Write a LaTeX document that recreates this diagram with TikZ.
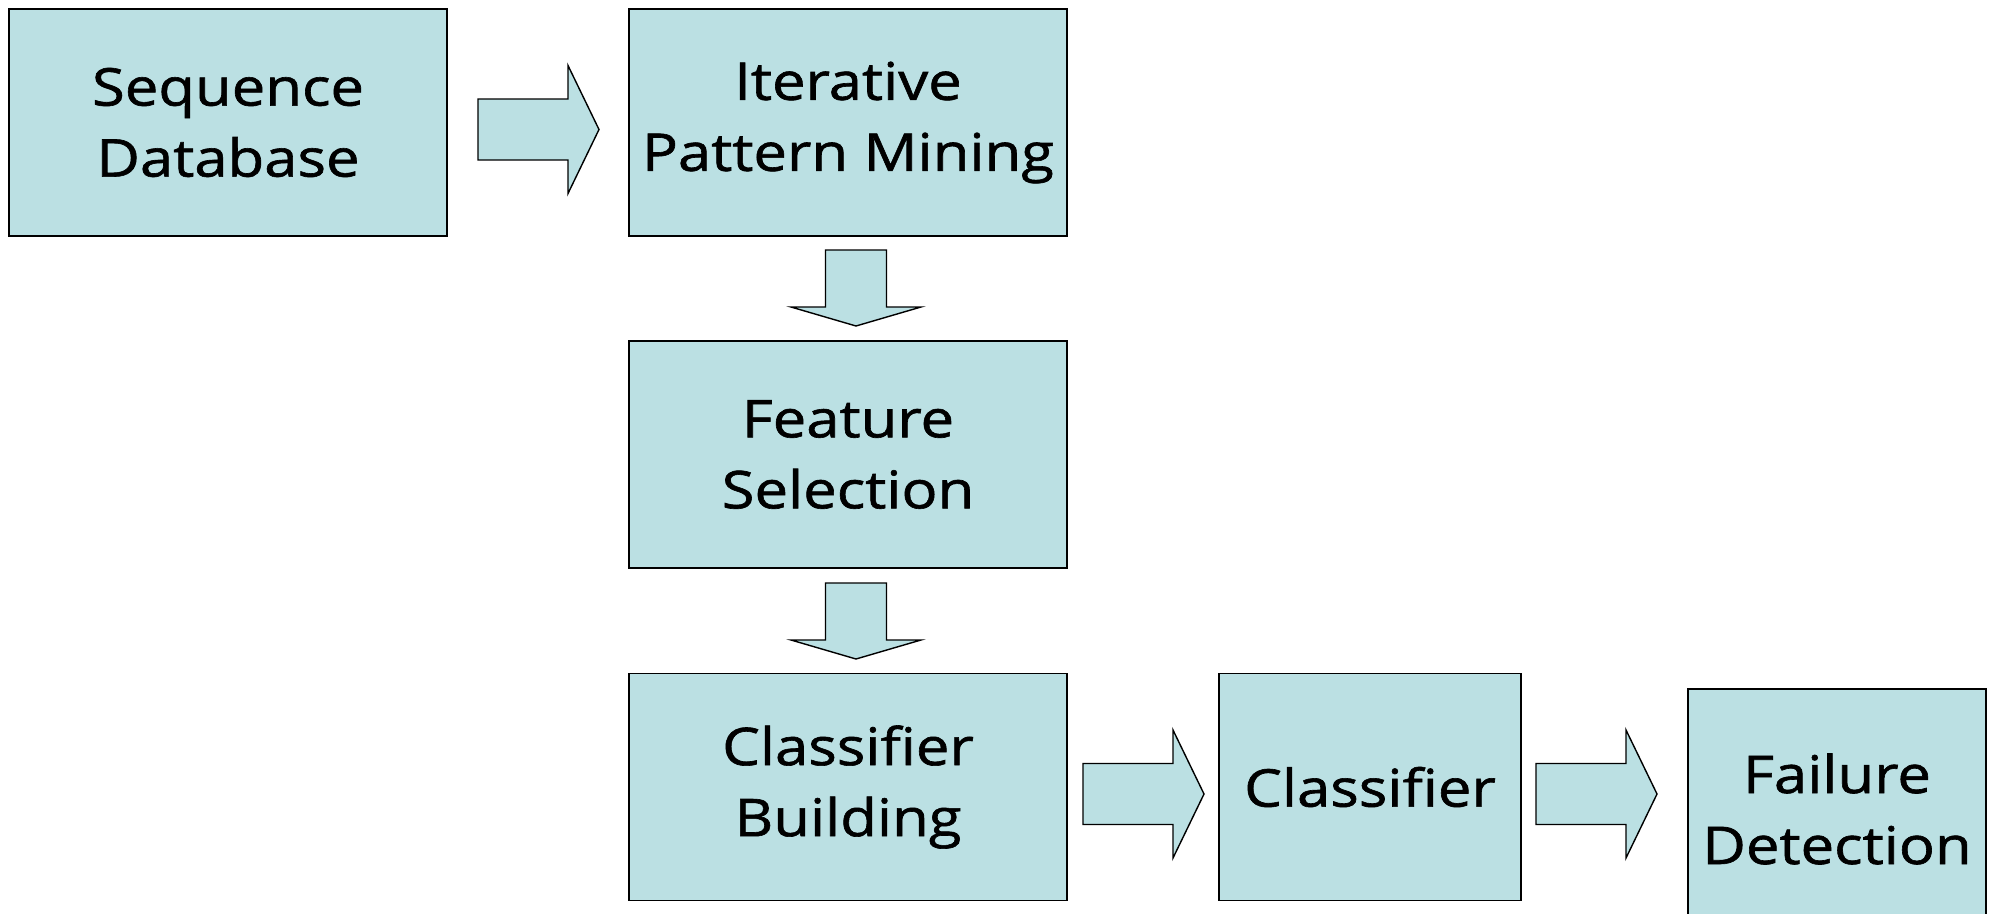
\documentclass[tikz,border=0pt]{standalone}
\usepackage{fontspec}
\setmainfont{Open Sans}[FakeStretch=1.15, FakeBold=1.2]
\definecolor{boxfill}{HTML}{BBE0E3}
\tikzset{
  stage/.style={draw=black, line width=1.6pt, fill=boxfill, rectangle,
    inner sep=0pt, align=center, font=\fontsize{52}{71}\selectfont},
  blockarrow/.style={draw=black, line width=1.4pt, fill=boxfill, line join=miter},
  pics/rightblock/.style={code={
    \path[blockarrow] (0,-30.5) -- (90,-30.5) -- (90,-64) -- (121,0) -- (90,64)
      -- (90,30.5) -- (0,30.5) -- cycle;}},
  pics/downblock/.style={code={
    \path[blockarrow] (-30.5,0) -- (30.5,0) -- (30.5,57) -- (65,57) -- (0,76)
      -- (-65,57) -- (-30.5,57) -- cycle;}}
}
\begin{document}
\begin{tikzpicture}[x=1pt, y=-1pt]
\useasboundingbox (0,0) rectangle (1997,913);
\clip (0,0) rectangle (1997,913);
% process stages
\node[stage, minimum width=438pt, minimum height=227pt] (seq) at (228,122.5) {Sequence\\Database};
\node[stage, minimum width=438pt, minimum height=227pt] (ipm) at (848,122.5) {Iterative\\Pattern Mining};
\node[stage, minimum width=438pt, minimum height=227pt] (fs) at (848,454.5) {Feature\\Selection};
\node[stage, minimum width=438pt, minimum height=227pt] (cb) at (848,787) {Classifier\\Building};
\node[stage, minimum width=302pt, minimum height=227pt] (cl) at (1370,787) {Classifier};
\node[stage, minimum width=298pt, minimum height=240pt] (fd) at (1837,809) {Failure\\Detection};
% block arrows between the stages
\coordinate (a1) at (478,129.5);
\coordinate (a2) at (1083,794);
\coordinate (a3) at (1536,794);
\coordinate (d1) at (856,250);
\coordinate (d2) at (856,583);
\pic at (a1) {rightblock};
\pic at (a2) {rightblock};
\pic at (a3) {rightblock};
\pic at (d1) {downblock};
\pic at (d2) {downblock};
\end{tikzpicture}
\end{document}
